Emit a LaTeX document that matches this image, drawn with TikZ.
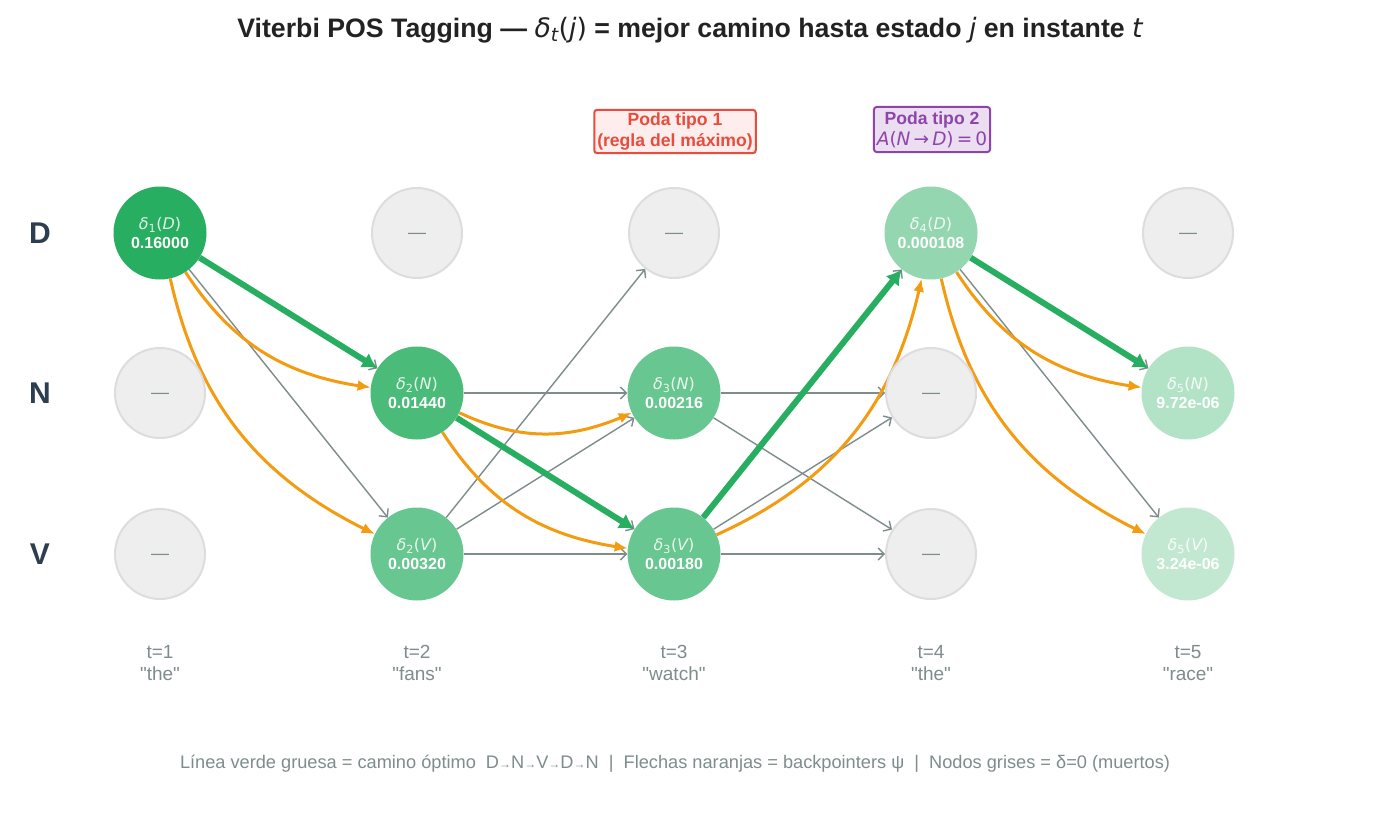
\documentclass[tikz,border=0pt]{standalone}
\usepackage{fontspec}
\setmainfont{Liberation Sans}
\newfontfamily\qf{Liberation Sans}[Ligatures=TeXOff]
\newfontfamily\dvf{DejaVu Sans}
\usetikzlibrary{arrows.meta,bending}
\definecolor{vgreen}{HTML}{27AE60}
\definecolor{vorange}{HTML}{F39C12}
\definecolor{vgray}{HTML}{7F8C8D}
\definecolor{darkc}{HTML}{2C3E50}
\definecolor{ttl}{HTML}{222222}
\definecolor{deadfill}{HTML}{EEEEEE}
\definecolor{deaddraw}{HTML}{DDDDDD}
\definecolor{redc}{HTML}{E74C3C}
\definecolor{redfill}{HTML}{FDEDEC}
\definecolor{purc}{HTML}{8E44AD}
\definecolor{purfill}{HTML}{EBDEF0}
\colorlet{gA}{vgreen}
\colorlet{gB}{vgreen!84!white}
\colorlet{gC}{vgreen!70!white}
\colorlet{gD}{vgreen!50!white}
\colorlet{gE}{vgreen!35!white}
\colorlet{gF}{vgreen!28!white}
\newcommand\mi[1]{{\dvf\itshape #1}}
\newcommand\mr[1]{{\dvf #1}}
\newcommand\dlt[4]{\textcolor{white!85!#4}{\mi{δ}\textsubscript{\mr{#1}}\mr{(}\mi{#2}\mr{)}}\\\textbf{#3}}
\newcommand\dq{{\qf"}}
\newcommand\dsh{\raisebox{-5pt}[0pt][0pt]{—}}
\pgfdeclarelayer{bg}
\pgfdeclarelayer{edges}
\pgfsetlayers{bg,edges,main}
\tikzset{
  alive/.style={circle, minimum size=93pt, inner sep=0pt, fill=#1, text=white, align=center, font=\fontsize{16}{19}\selectfont},
  dead/.style={circle, minimum size=90pt, inner sep=0pt, fill=deadfill, draw=deaddraw, line width=2pt, text=vgray, font=\fontsize{18}{20}\selectfont},
  rowlab/.style={text=darkc, font=\fontsize{30}{30}\selectfont\bfseries},
  timelab/.style={text=vgray, align=center, font=\fontsize{19}{22}\selectfont},
  grayedge/.style={draw=vgray, line width=1.4pt, -{Straight Barb[length=6pt,width=12pt,line width=1.4pt]}},
  orangeedge/.style={draw=vorange, line width=3pt, -{Latex[length=13pt,width=11pt]}, bend right=25},
  greenedge/.style={draw=vgreen, line width=6pt, -{Latex[length=15pt,width=17pt]}},
  podabox/.style={draw=#1, line width=2pt, rounded corners=3pt, align=center, text=#1, inner xsep=3pt, inner ysep=3pt, font=\fontsize{17.6}{21}\selectfont}
}
\begin{document}
\begin{tikzpicture}[x=1pt,y=1pt]
\begin{pgfonlayer}{bg}
\fill[white] (0,0) rectangle (1381,-828);
\end{pgfonlayer}
\path[use as bounding box] (0,0) rectangle (1381,-828);

% title
\node[text=ttl, font=\fontsize{26.7}{30}\selectfont\bfseries] (title) at (690,-30)
  {Viterbi POS Tagging — {\mdseries\mi{δ}\textsubscript{\mi{t}}\mr{(}\mi{j}\mr{)}} = mejor camino hasta estado {\mdseries\mi{j}} en instante {\mdseries\mi{t}}};

% pruning boxes
\node[podabox=redc, fill=redfill] (poda1) at (675,-131.5) {\textbf{Poda tipo 1}\\\textbf{(regla del máximo)}};
\node[podabox=purc, fill=purfill, inner ysep=4.5pt] (poda2) at (932,-129.5) {\textbf{Poda tipo 2}\\{\fontsize{18.5}{21}\selectfont\mi{A}\mr{(}\mi{N}\,\mr{→}\,\mi{D}\mr{)}\,\mr{=}\,\mr{0}}};

% row labels
\node[rowlab] (rD) at (40,-233) {D};
\node[rowlab] (rN) at (40,-393) {N};
\node[rowlab] (rV) at (40,-554) {V};

% states
\node[alive=gA] (D1) at (160,-233) {\dlt{1}{D}{0.16000}{gA}};
\node[dead] (N1) at (160,-393) {\dsh};
\node[dead] (V1) at (160,-554) {\dsh};

\node[dead] (D2) at (417,-233) {\dsh};
\node[alive=gB] (N2) at (417,-393) {\dlt{2}{N}{0.01440}{gB}};
\node[alive=gC] (V2) at (417,-554) {\dlt{2}{V}{0.00320}{gC}};

\node[dead] (D3) at (674,-233) {\dsh};
\node[alive=gC] (N3) at (674,-393) {\dlt{3}{N}{0.00216}{gC}};
\node[alive=gC] (V3) at (674,-554) {\dlt{3}{V}{0.00180}{gC}};

\node[alive=gD] (D4) at (931,-233) {\dlt{4}{D}{0.000108}{gD}};
\node[dead] (N4) at (931,-393) {\dsh};
\node[dead] (V4) at (931,-554) {\dsh};

\node[dead] (D5) at (1188,-233) {\dsh};
\node[alive=gE] (N5) at (1188,-393) {\dlt{5}{N}{9.72e-06}{gE}};
\node[alive=gF] (V5) at (1188,-554) {\dlt{5}{V}{3.24e-06}{gF}};

% time labels
\node[timelab] (t1) at (160,-663) {t=1\\\dq the\dq};
\node[timelab] (t2) at (417,-663) {t=2\\\dq fans\dq};
\node[timelab] (t3) at (674,-663) {t=3\\\dq watch\dq};
\node[timelab] (t4) at (931,-663) {t=4\\\dq the\dq};
\node[timelab] (t5) at (1188,-663) {t=5\\\dq race\dq};

% legend
\node[text=vgray, font=\fontsize{18.2}{20}\selectfont] (legend) at (675,-764)
  {Línea verde gruesa = camino óptimo\ \ D{\fontsize{12}{12}\selectfont→}N{\fontsize{12}{12}\selectfont→}V{\fontsize{12}{12}\selectfont→}D{\fontsize{12}{12}\selectfont→}N\ \ |\ \ Flechas naranjas = backpointers ψ\ \ |\ \ Nodos grises = δ=0 (muertos)};

\begin{pgfonlayer}{edges}
% all allowed transitions
\draw[grayedge] (D1) -- (N2);
\draw[grayedge] (D1) -- (V2);
\draw[grayedge] (N2) -- (N3);
\draw[grayedge] (N2) -- (V3);
\draw[grayedge] (V2) -- (D3);
\draw[grayedge] (V2) -- (N3);
\draw[grayedge] (V2) -- (V3);
\draw[grayedge] (N3) -- (N4);
\draw[grayedge] (N3) -- (V4);
\draw[grayedge] (V3) -- (D4);
\draw[grayedge] (V3) -- (N4);
\draw[grayedge] (V3) -- (V4);
\draw[grayedge] (D4) -- (N5);
\draw[grayedge] (D4) -- (V5);
% backpointers
\draw[orangeedge] (D1) to (N2);
\draw[orangeedge, bend right=26] (D1) to (V2);
\draw[orangeedge] (N2) to (N3);
\draw[orangeedge] (N2) to (V3);
\draw[orangeedge, bend right=27] (V3) to (D4);
\draw[orangeedge] (D4) to (N5);
\draw[orangeedge, bend right=26] (D4) to (V5);
% optimal path
\draw[greenedge] (D1) -- (N2);
\draw[greenedge] (N2) -- (V3);
\draw[greenedge] (V3) -- (D4);
\draw[greenedge] (D4) -- (N5);
\end{pgfonlayer}
\end{tikzpicture}
\end{document}
